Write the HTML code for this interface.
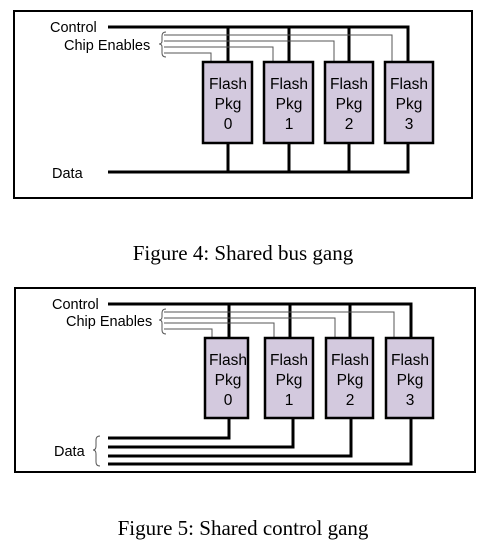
<!DOCTYPE html>
<html><head><style>
body{margin:0;background:#fff;width:486px;height:552px;overflow:hidden}
svg{display:block}
.l{font-family:"Liberation Sans",sans-serif;font-size:14.5px;fill:#000}
.b{font-family:"Liberation Sans",sans-serif;font-size:15.5px;fill:#000;text-anchor:middle}
.c{font-family:"Liberation Serif",serif;font-size:21px;fill:#000;text-anchor:middle}
</style></head><body>
<svg width="486" height="552" viewBox="0 0 486 552">
<!-- Figure 4 -->
<rect x="14" y="11" width="458" height="187" fill="none" stroke="#000" stroke-width="2"/>
<g stroke="#000" stroke-width="3" fill="none">
<path d="M108 27H408V62M228 27V62M289 27V62M349 27V62"/>
<path d="M108 172H408V143M228 172V143M289 172V143M349 172V143"/>
</g>
<g stroke="#555" stroke-width="1" fill="none">
<path d="M164 35H392V62M164 41H334V62M164 47H273V62M164 53H211V62"/>
<path d="M166 32Q162 32 162 36V41Q162 44 159 44Q162 44 162 47V53Q162 57 166 57"/>
</g>
<g fill="#d3c9de" stroke="#000" stroke-width="2.5">
<rect x="203" y="62" width="49" height="81"/><rect x="264" y="62" width="49" height="81"/>
<rect x="325" y="62" width="48" height="81"/><rect x="385" y="62" width="48" height="81"/>
</g>
<text class="l" x="50" y="32">Control</text>
<text class="l" x="64" y="50">Chip Enables</text>
<text class="l" x="52" y="178">Data</text>
<g class="b">
<text x="228" y="89">Flash</text><text x="228" y="109">Pkg</text><text x="228" y="129">0</text>
<text x="289" y="89">Flash</text><text x="289" y="109">Pkg</text><text x="289" y="129">1</text>
<text x="349" y="89">Flash</text><text x="349" y="109">Pkg</text><text x="349" y="129">2</text>
<text x="409" y="89">Flash</text><text x="409" y="109">Pkg</text><text x="409" y="129">3</text>
</g>
<text class="c" x="243" y="260">Figure 4: Shared bus gang</text>

<!-- Figure 5 -->
<rect x="15" y="288" width="460" height="184" fill="none" stroke="#000" stroke-width="2"/>
<g stroke="#000" stroke-width="3" fill="none">
<path d="M108 304H411V338M229 304V338M290 304V338M350 304V338"/>
<path d="M108 438H229V418M108 447H293V418M108 456H351V418M108 464H411V418"/>
</g>
<g stroke="#555" stroke-width="1" fill="none">
<path d="M164 312H394V338M164 318H335V338M164 323H274V338M164 329H212V338"/>
<path d="M166 309Q162 309 162 313V317Q162 320 159 320Q162 320 162 323V330Q162 334 166 334"/>
<path d="M100 436Q96 436 96 440V446Q96 450 93 450Q96 450 96 454V462Q96 466 100 466"/>
</g>
<g fill="#d3c9de" stroke="#000" stroke-width="2.5">
<rect x="205" y="338" width="43" height="80"/><rect x="265" y="338" width="48" height="80"/>
<rect x="326" y="338" width="47" height="80"/><rect x="386" y="338" width="47" height="80"/>
</g>
<text class="l" x="52" y="309">Control</text>
<text class="l" x="66" y="326">Chip Enables</text>
<text class="l" x="54" y="456">Data</text>
<g class="b">
<text x="228" y="365">Flash</text><text x="228" y="385">Pkg</text><text x="228" y="405">0</text>
<text x="289" y="365">Flash</text><text x="289" y="385">Pkg</text><text x="289" y="405">1</text>
<text x="350" y="365">Flash</text><text x="350" y="385">Pkg</text><text x="350" y="405">2</text>
<text x="410" y="365">Flash</text><text x="410" y="385">Pkg</text><text x="410" y="405">3</text>
</g>
<text class="c" x="243" y="535">Figure 5: Shared control gang</text>
</svg>
</body></html>
